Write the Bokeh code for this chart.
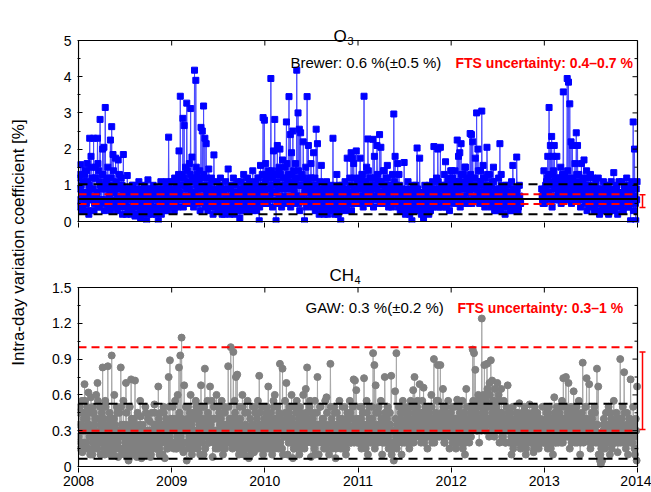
import math
import numpy as np
from bokeh.plotting import figure
from bokeh.models import FixedTicker, Range1d, Label
from bokeh.layouts import column, row
from bokeh.embed import file_html
from bokeh.resources import INLINE
from bokeh.core.properties import value

# ---------------- data ----------------
years = [2008, 2009, 2010, 2011, 2012, 2013]
year_ticks = [2008, 2009, 2010, 2011, 2012, 2013, 2014]
GAP = [None] * 16

# O3 intra-day variation coefficient [%]; three interleaved sample sets per year (None = no data)
o3_2008 = [0.9, 1.57, 0.6, 1.1, 1.3, 0.5, 1.6, 0.8, 2.3, 1.8, 0.7, 2.3, 1.2, 0.6, 2.3, 1.4, 2.82, 0.9,
           2.0, 2.05, 3.15, 1.1, 1.5, 0.7, 2.25, 2.62, 1.85, 0.8, 1.75, 0.5, 1.7, 1.3, 0.6, 1.0, 1.85, 0.4,
           0.9, 1.27, 0.3, 0.8, 0.2, 1.0, 0.5, 0.15, 0.9, 0.4, 1.1, 0.3, 0.7, 0.2, 0.9, 0.5, 0.02, 1.15,
           0.4, 0.8, 0.2, 1.0, 0.6, 0.3, 0.9, 0.02, 0.7, 1.1, 0.4, 0.8, 0.3, 1.0, 0.5, 2.33, 0.6, 1.1]
o3_2008_b = [1.2, 0.4, 1.0, 0.3, 0.8, 1.4, 0.5, 1.1, 0.2, 0.9, 1.5, 0.6, 0.3, 1.2, 0.7, 1.6, 0.4, 1.0,
             0.6, 1.3, 0.3, 0.9, 1.2, 0.5, 1.0, 0.3, 0.8, 1.4, 0.6, 1.1, 0.3, 0.9, 0.5, 1.2, 0.2, 0.8,
             0.5, 0.2, 0.9, 0.4, 0.7, 0.3, 1.0, 0.6, 0.2, 0.8, 0.5, 0.9, 0.1, 0.6, 0.4, 1.0, 0.3, 0.7,
             0.2, 0.9, 0.5, 0.3, 0.8, 0.6, 0.2, 0.7, 0.4, 0.9, 0.2, 0.6, 0.8, 0.4, 1.1, 0.3, 0.9, 0.5]
o3_2008_c = [0.6, 1.3, 0.8, 0.4, 1.1, 0.7, 1.4, 0.3, 1.0, 0.6, 1.2, 0.9, 0.5, 1.5, 0.8, 0.4, 1.1, 0.6,
             1.3, 0.5, 0.9, 0.6, 1.0, 0.4, 0.8, 1.2, 0.5, 0.9, 0.4, 1.0, 0.7, 0.4, 1.0, 0.6, 0.9, 0.5,
             0.7, 0.4, 0.6, 0.9, 0.3, 0.8, 0.5, 0.7, 0.4, 0.6, 0.2, 0.8, 0.5, 0.7, 0.3, 0.6, 0.8, 0.4,
             0.9, 0.5, 0.7, 0.3, 0.6, 0.9, 0.4, 0.8, 0.6, 0.3, 0.7, 0.9, 0.5, 0.7, 0.6, 0.8, 0.4, 0.7]
o3_2009 = [0.8, 1.1, 0.4, 1.0, 0.6, 1.95, 3.46, 1.2, 2.85, 2.65, 1.5, 3.27, 0.9, 1.6, 3.12, 1.78, 1.1, 4.18,
           3.9, 1.3, 0.7, 1.4, 2.6, 2.5, 3.19, 2.3, 2.15, 1.0, 1.45, 0.6, 1.2, 0.4, 1.84, 0.8, 1.1, 0.3,
           0.9, 1.2, 0.4, 0.8, 0.2, 1.1, 0.5, 1.45, 0.3, 0.9, 0.6, 1.2, 0.2, 1.0, 0.5, 0.8, 0.1, 1.1,
           0.6, 1.3, 0.4, 0.9, 1.2, 0.3, 1.0, 0.7, 1.4, 0.5, 1.1, 0.3, 1.2, 0.02, 1.55, 0.5, 2.87, 2.8]
o3_2009_b = [0.5, 0.9, 0.3, 0.7, 1.1, 0.4, 0.8, 0.6, 1.3, 0.4, 1.0, 0.7, 1.4, 0.5, 0.9, 0.6, 1.2, 0.4,
             0.8, 1.5, 0.5, 1.1, 0.3, 0.9, 0.6, 1.3, 0.4, 0.8, 0.3, 1.0, 0.5, 0.9, 0.2, 0.7, 0.5, 0.9,
             0.3, 0.6, 1.0, 0.2, 0.8, 0.4, 0.9, 0.3, 0.7, 0.2, 1.0, 0.4, 0.8, 0.3, 0.6, 1.1, 0.4, 0.7,
             0.9, 0.3, 1.0, 0.6, 0.4, 0.8, 1.1, 0.5, 0.9, 0.3, 0.7, 1.0, 0.5, 1.2, 0.4, 0.9, 1.3, 0.6]
o3_2009_c = [0.9, 0.6, 1.2, 0.5, 0.9, 1.3, 0.6, 1.0, 0.7, 1.2, 0.5, 0.9, 1.1, 0.7, 1.3, 0.8, 0.5, 1.2,
             0.7, 1.0, 0.9, 0.6, 1.2, 0.7, 1.0, 0.5, 0.9, 1.2, 0.7, 0.5, 0.8, 1.1, 0.6, 0.4, 0.8, 0.6,
             0.5, 0.8, 0.3, 0.6, 0.9, 0.5, 0.7, 0.4, 0.9, 0.6, 0.4, 0.7, 0.5, 0.8, 0.3, 0.7, 0.6, 0.9,
             0.4, 0.7, 0.8, 0.5, 0.7, 0.6, 0.4, 0.9, 0.6, 0.8, 0.5, 0.7, 0.9, 0.6, 0.8, 0.7, 1.0, 0.8]
o3_2010 = [1.6, 0.7, 1.3, 0.9, 3.95, 1.2, 1.95, 2.82, 0.02, 2.1, 1.4, 2.0, 0.5, 1.7, 0.9, 1.5, 2.75, 1.1,
           3.45, 2.4, 1.9, 2.5, 0.8, 1.6, 4.18, 3.0, 2.55, 2.45, 1.3, 2.2, 0.02, 1.5, 3.45, 2.1, 1.0, 1.6,
           0.4, 1.9, 1.2, 2.55, 2.15, 0.7, 1.1, 1.55, 0.3, 0.9, 0.5, 1.1, 0.2, 0.8, 0.4, 1.0, 2.3, 0.3,
           0.9, 1.3, 0.2, 0.7, 0.02, 1.0, 0.4, 0.8, 0.3, 1.75, 0.6, 1.2, 1.9, 1.75, 1.6, 0.5, 1.95, 1.1]
o3_2010_b = [0.8, 1.2, 0.5, 1.4, 0.7, 1.0, 0.4, 1.3, 0.8, 1.1, 0.5, 1.5, 0.9, 0.4, 1.2, 0.7, 1.0, 1.6,
             0.6, 1.1, 0.4, 1.3, 0.9, 0.5, 1.2, 0.7, 1.4, 0.3, 1.0, 0.6, 1.2, 0.8, 0.4, 1.1, 0.6, 0.9,
             1.2, 0.5, 0.8, 0.3, 1.0, 0.6, 0.2, 0.9, 0.5, 0.7, 0.2, 1.0, 0.4, 0.6, 0.9, 0.3, 0.7, 0.5,
             0.2, 0.8, 0.4, 1.0, 0.3, 0.6, 0.9, 0.5, 1.1, 0.4, 0.8, 0.6, 1.0, 0.3, 0.8, 1.2, 0.6, 0.9]
o3_2010_c = [1.1, 0.5, 0.9, 1.2, 0.6, 1.4, 0.8, 1.0, 1.3, 0.6, 0.9, 0.7, 1.3, 0.6, 1.0, 1.2, 0.5, 0.9,
             1.3, 0.7, 1.0, 0.6, 1.4, 1.1, 0.7, 1.0, 0.5, 1.2, 0.7, 1.0, 0.6, 0.9, 1.1, 0.5, 0.8, 1.2,
             0.7, 0.5, 1.0, 0.6, 0.4, 0.8, 0.6, 0.5, 0.8, 0.4, 0.7, 0.5, 0.8, 0.3, 0.6, 0.7, 0.5, 0.8,
             0.6, 0.4, 0.7, 0.5, 0.8, 0.6, 0.4, 0.8, 0.6, 0.9, 0.5, 0.7, 0.5, 0.8, 0.6, 0.9, 0.7, 0.5]
o3_2011 = [0.9, 1.75, 0.5, 1.3, 3.46, 0.8, 1.5, 2.28, 0.6, 1.2, 0.9, 2.27, 1.8, 0.7, 2.1, 1.1, 2.4, 2.05,
           0.5, 1.4, 0.8, 1.2, 1.55, 0.4, 1.0, 0.6, 1.3, 2.97, 1.8, 0.5, 1.6, 1.3, 0.3, 0.9, 0.5, 1.63,
           0.2, 0.8, 1.1, 0.3, 0.7, 0.02, 0.9, 0.4, 1.0, 2.03, 0.5, 1.75, 0.3, 0.8, 0.1, 1.0, 0.4, 0.7,
           0.2, 0.9, 0.5, 1.1, 2.07, 0.6, 1.2, 2.0, 0.7, 2.05, 1.0, 0.4, 1.3, 1.65, 0.6, 1.1, 0.3, 1.4]
o3_2011_b = [0.5, 1.0, 0.7, 1.3, 0.4, 0.9, 1.1, 0.6, 1.4, 0.5, 0.8, 1.2, 0.4, 1.0, 0.6, 1.3, 0.8, 0.5,
             1.1, 0.7, 1.4, 0.5, 0.9, 1.2, 0.6, 1.0, 0.4, 0.8, 1.1, 0.6, 0.9, 0.4, 1.0, 0.6, 0.8, 0.3,
             0.7, 0.4, 0.9, 0.5, 0.2, 0.8, 0.5, 1.0, 0.3, 0.7, 0.9, 0.4, 0.6, 0.2, 0.8, 0.5, 0.9, 0.3,
             0.6, 1.0, 0.3, 0.7, 0.4, 0.9, 0.5, 0.8, 1.1, 0.4, 0.7, 0.9, 0.5, 1.0, 0.4, 0.8, 1.2, 0.6]
o3_2011_c = [0.7, 1.2, 0.9, 0.6, 1.1, 0.7, 1.0, 0.9, 0.7, 1.2, 0.6, 1.0, 0.7, 1.2, 0.9, 0.6, 1.1, 0.8,
             0.7, 1.0, 0.6, 0.9, 0.7, 1.0, 0.8, 0.5, 0.9, 0.6, 0.8, 1.0, 0.5, 0.7, 0.8, 0.5, 0.7, 0.6,
             0.5, 0.6, 0.4, 0.7, 0.6, 0.4, 0.7, 0.6, 0.5, 0.8, 0.4, 0.6, 0.5, 0.7, 0.4, 0.7, 0.6, 0.5,
             0.8, 0.4, 0.7, 0.5, 0.8, 0.6, 0.9, 0.4, 0.7, 0.6, 0.9, 0.7, 0.6, 0.8, 0.7, 0.5, 0.9, 0.7]
o3_2012 = [1.4, 0.6, 1.1, 0.8, 2.25, 1.8, 1.9, 2.15, 0.9, 1.3, 1.5, 0.5, 1.2, 0.8, 2.43, 2.4, 2.2, 0.7,
           1.75, 3.0, 2.0, 1.0, 1.4, 3.05, 1.55, 0.6, 1.2, 2.05, 0.9, 1.3, 0.4, 1.1, 1.5, 0.3, 0.9, 0.5,
           1.2, 2.15, 1.3, 0.4, 0.9, 0.2, 1.0, 0.5, 0.8, 0.3, 1.1, 1.55, 0.4, 0.9, 1.78, 0.3, 1.0, 0.5] \
    + GAP + [0.6, 1.4]
o3_2012_b = [0.7, 1.2, 0.5, 1.4, 0.9, 0.6, 1.1, 0.4, 1.3, 0.7, 1.0, 1.5, 0.6, 1.1, 0.8, 1.3, 0.5, 1.0,
             1.2, 0.6, 0.9, 1.4, 0.5, 1.1, 0.8, 1.2, 0.4, 0.9, 1.3, 0.6, 1.0, 0.7, 0.5, 1.1, 0.3, 0.8,
             0.6, 0.9, 0.3, 1.0, 0.5, 0.8, 0.4, 0.7, 1.0, 0.5, 0.8, 0.3, 0.9, 0.5, 0.6, 0.9, 0.4, 0.7] \
    + GAP + [0.9, 0.5]
o3_2012_c = [1.0, 0.8, 0.9, 0.6, 1.1, 0.8, 0.5, 1.0, 0.7, 1.1, 0.6, 0.9, 1.0, 0.5, 1.1, 0.6, 0.9, 1.2,
             0.7, 1.0, 0.6, 0.8, 1.1, 0.7, 0.5, 1.0, 0.8, 0.6, 1.0, 0.8, 0.6, 1.0, 0.7, 0.6, 0.8, 0.5,
             0.7, 0.4, 0.7, 0.6, 0.8, 0.5, 0.7, 0.6, 0.4, 0.7, 0.5, 0.8, 0.6, 0.4, 0.8, 0.6, 0.7, 0.5] \
    + GAP + [0.7, 0.8]
o3_2013 = [0.7, 1.1, 1.8, 3.15, 2.1, 2.35, 1.8, 2.1, 0.9, 1.8, 1.2, 0.6, 1.5, 1.0, 3.58, 1.3, 0.8, 3.95,
           3.85, 3.25, 2.2, 2.1, 1.0, 1.6, 2.45, 2.1, 1.3, 0.7, 1.6, 1.1, 1.7, 0.5, 1.4, 1.2, 0.4, 1.3,
           0.8, 1.2, 0.3, 1.0, 0.6, 1.2, 0.2, 0.9, 0.5, 1.1, 0.3, 0.8, 1.0, 0.2, 0.7, 1.1, 0.4, 1.35,
           0.6, 0.9, 0.2, 1.1, 0.5, 0.8, 0.3, 1.0, 0.6, 1.2, 0.4, 0.9, 0.02, 1.1, 2.75, 2.0, 0.02, 1.1]
o3_2013_b = [0.5, 1.0, 0.8, 1.3, 0.6, 1.1, 0.4, 1.4, 0.9, 0.6, 1.2, 0.8, 1.0, 0.5, 1.3, 0.7, 1.1, 0.6,
             1.4, 0.8, 1.0, 0.5, 1.2, 0.7, 0.9, 1.3, 0.6, 1.0, 0.4, 0.8, 1.2, 0.6, 0.9, 0.3, 1.0, 0.7,
             0.5, 0.9, 0.7, 0.4, 1.1, 0.5, 0.8, 0.3, 0.7, 0.9, 0.5, 1.0, 0.4, 0.7, 0.3, 0.9, 0.6, 0.8,
             0.3, 0.7, 1.0, 0.4, 0.8, 0.5, 1.1, 0.3, 0.9, 0.6, 0.8, 0.4, 1.0, 0.6, 0.9, 0.3, 0.7, 0.9]
o3_2013_c = [0.9, 0.7, 1.2, 0.8, 1.0, 0.7, 1.3, 0.6, 1.1, 1.0, 0.7, 1.2, 0.8, 1.1, 0.6, 1.0, 0.9, 1.2,
             0.6, 1.0, 0.7, 1.1, 0.8, 0.6, 1.0, 0.8, 1.1, 0.6, 0.9, 1.0, 0.7, 0.9, 0.6, 0.8, 1.0, 0.5,
             0.8, 0.6, 0.5, 0.8, 0.6, 0.9, 0.5, 0.6, 0.8, 0.4, 0.7, 0.6, 0.8, 0.5, 0.8, 0.6, 0.7, 0.5,
             0.8, 0.4, 0.6, 0.8, 0.5, 0.7, 0.6, 0.8, 0.5, 0.7, 0.9, 0.6, 0.5, 0.8, 0.6, 0.7, 0.5, 0.6]

# CH4 intra-day variation coefficient [%]
ch4_2008 = [0.45, 0.2, 0.55, 0.3, 0.69, 0.15, 0.5, 0.62, 0.25, 0.58, 0.1, 0.45, 0.3, 0.6, 0.7, 0.2, 0.5, 0.35,
            0.83, 0.15, 0.55, 0.25, 0.84, 0.4, 0.1, 0.93, 0.3, 0.6, 0.2, 0.5, 0.08, 0.45, 0.83, 0.25, 0.55, 0.1,
            0.7, 0.35, 0.05, 0.5, 0.73, 0.2, 0.4, 0.72, 0.1, 0.45, 0.25, 0.55, 0.07, 0.35, 0.2, 0.5, 0.1, 0.4,
            0.3, 0.08, 0.45, 0.2, 0.52, 0.15, 0.35, 0.67, 0.1, 0.45, 0.25, 0.5, 0.07, 0.4, 0.2, 0.75, 0.89, 0.3]
ch4_2008_b = [0.25, 0.5, 0.35, 0.12, 0.4, 0.55, 0.2, 0.35, 0.45, 0.1, 0.3, 0.5, 0.15, 0.4, 0.25, 0.55, 0.3, 0.1,
              0.45, 0.2, 0.35, 0.5, 0.15, 0.3, 0.45, 0.2, 0.4, 0.1, 0.35, 0.25, 0.45, 0.15, 0.3, 0.5, 0.12, 0.35,
              0.2, 0.45, 0.15, 0.3, 0.1, 0.4, 0.25, 0.15, 0.35, 0.08, 0.3, 0.2, 0.42, 0.12, 0.3, 0.25, 0.45, 0.15,
              0.2, 0.38, 0.1, 0.3, 0.25, 0.45, 0.15, 0.3, 0.4, 0.2, 0.35, 0.1, 0.45, 0.25, 0.35, 0.15, 0.5, 0.2]
ch4_2008_c = [0.35, 0.15, 0.3, 0.45, 0.2, 0.3, 0.4, 0.15, 0.35, 0.25, 0.45, 0.2, 0.35, 0.25, 0.15, 0.4, 0.2, 0.3,
              0.25, 0.4, 0.1, 0.3, 0.2, 0.35, 0.25, 0.15, 0.3, 0.4, 0.15, 0.3, 0.2, 0.3, 0.15, 0.35, 0.25, 0.15,
              0.3, 0.1, 0.25, 0.2, 0.3, 0.15, 0.35, 0.25, 0.2, 0.3, 0.15, 0.35, 0.2, 0.25, 0.15, 0.3, 0.2, 0.3,
              0.15, 0.25, 0.3, 0.15, 0.35, 0.2, 0.3, 0.25, 0.15, 0.3, 0.2, 0.35, 0.25, 0.3, 0.15, 0.35, 0.25, 0.4]
ch4_2009 = [0.4, 0.15, 0.55, 0.3, 0.6, 0.83, 0.93, 1.08, 0.2, 0.68, 0.35, 0.05, 0.5, 0.25, 0.6, 0.1, 0.45, 0.3,
            0.55, 0.15, 0.4, 0.25, 0.68, 0.5, 0.1, 0.82, 0.35, 0.55, 0.2, 0.67, 0.4, 0.08, 0.5, 0.3, 0.6, 0.15,
            0.45, 0.25, 0.55, 0.1, 0.5, 0.35, 0.2, 0.84, 0.4, 1.0, 0.3, 0.96, 0.55, 0.75, 0.77, 0.15, 0.5, 0.25,
            0.6, 0.1, 0.45, 0.3, 0.55, 0.07, 0.4, 0.2, 0.5, 0.12, 0.45, 0.3, 0.55, 0.76, 0.2, 0.5, 0.1, 0.4]
ch4_2009_b = [0.3, 0.5, 0.2, 0.4, 0.15, 0.35, 0.45, 0.25, 0.4, 0.12, 0.3, 0.5, 0.2, 0.35, 0.45, 0.25, 0.15, 0.4,
              0.3, 0.5, 0.2, 0.45, 0.1, 0.35, 0.25, 0.5, 0.15, 0.3, 0.45, 0.2, 0.35, 0.55, 0.25, 0.4, 0.15, 0.3,
              0.5, 0.2, 0.4, 0.3, 0.15, 0.45, 0.25, 0.35, 0.5, 0.2, 0.4, 0.15, 0.3, 0.45, 0.25, 0.35, 0.1, 0.4,
              0.25, 0.5, 0.2, 0.35, 0.15, 0.45, 0.3, 0.1, 0.35, 0.25, 0.5, 0.15, 0.4, 0.3, 0.45, 0.2, 0.35, 0.25]
ch4_2009_c = [0.2, 0.35, 0.3, 0.15, 0.25, 0.4, 0.2, 0.3, 0.15, 0.35, 0.2, 0.3, 0.4, 0.15, 0.3, 0.35, 0.2, 0.25,
              0.4, 0.3, 0.15, 0.35, 0.3, 0.2, 0.4, 0.3, 0.25, 0.4, 0.3, 0.35, 0.25, 0.3, 0.4, 0.2, 0.3, 0.4,
              0.25, 0.35, 0.3, 0.2, 0.35, 0.15, 0.3, 0.25, 0.2, 0.3, 0.25, 0.35, 0.2, 0.3, 0.4, 0.2, 0.3, 0.35,
              0.15, 0.3, 0.25, 0.2, 0.3, 0.25, 0.15, 0.3, 0.25, 0.35, 0.2, 0.3, 0.25, 0.15, 0.35, 0.25, 0.3, 0.15]
ch4_2010 = [0.35, 0.5, 0.67, 0.2, 0.45, 0.1, 0.55, 0.6, 0.3, 0.5, 0.15, 0.86, 0.4, 0.82, 0.25, 0.55, 0.7, 0.1,
            0.45, 0.3, 0.6, 0.07, 0.5, 0.2, 0.55, 0.35, 0.1, 0.45, 0.25, 0.6, 0.15, 0.65, 0.83, 0.3, 0.5, 0.08,
            0.45, 0.2, 0.55, 0.35, 0.75, 0.1, 0.5, 0.25, 0.4, 0.15, 0.55, 0.58, 0.3, 0.1, 0.86, 0.4, 0.2, 0.5,
            0.07, 0.45, 0.3, 0.55, 0.15, 0.4, 0.25, 0.5, 0.1, 0.45, 0.3, 0.55, 0.2, 0.4, 0.73, 0.72, 0.64, 0.25]
ch4_2010_b = [0.2, 0.45, 0.3, 0.15, 0.4, 0.25, 0.35, 0.5, 0.15, 0.4, 0.3, 0.45, 0.2, 0.35, 0.1, 0.3, 0.45, 0.25,
              0.35, 0.5, 0.2, 0.4, 0.3, 0.15, 0.45, 0.25, 0.35, 0.5, 0.15, 0.3, 0.4, 0.2, 0.45, 0.25, 0.35, 0.55,
              0.2, 0.4, 0.3, 0.1, 0.45, 0.25, 0.35, 0.5, 0.2, 0.4, 0.3, 0.15, 0.45, 0.3, 0.2, 0.5, 0.35, 0.25,
              0.45, 0.15, 0.35, 0.2, 0.4, 0.3, 0.5, 0.2, 0.35, 0.15, 0.4, 0.25, 0.45, 0.3, 0.5, 0.2, 0.35, 0.4]
ch4_2010_c = [0.3, 0.15, 0.4, 0.25, 0.3, 0.35, 0.2, 0.3, 0.4, 0.25, 0.2, 0.35, 0.3, 0.15, 0.35, 0.25, 0.3, 0.4,
              0.2, 0.35, 0.25, 0.3, 0.15, 0.35, 0.3, 0.2, 0.4, 0.3, 0.35, 0.2, 0.3, 0.35, 0.2, 0.4, 0.25, 0.3,
              0.35, 0.25, 0.15, 0.3, 0.2, 0.35, 0.25, 0.3, 0.35, 0.2, 0.25, 0.35, 0.2, 0.3, 0.35, 0.25, 0.15, 0.3,
              0.25, 0.35, 0.2, 0.3, 0.25, 0.35, 0.15, 0.3, 0.25, 0.2, 0.35, 0.3, 0.2, 0.3, 0.25, 0.35, 0.3, 0.2]
ch4_2011 = [0.3, 0.5, 0.15, 0.45, 0.74, 0.25, 0.55, 0.1, 0.4, 0.3, 0.5, 0.95, 0.85, 0.68, 0.2, 0.45, 0.35, 0.55,
            0.1, 0.4, 0.75, 0.25, 0.5, 0.15, 0.45, 0.76, 0.3, 0.05, 0.63, 0.95, 0.2, 0.5, 0.35, 0.1, 0.55, 0.3,
            0.45, 0.2, 0.5, 0.15, 0.55, 0.35, 0.64, 0.75, 0.25, 0.5, 0.4, 0.69, 0.2, 0.55, 0.66, 0.3, 0.45, 0.15,
            0.5, 0.35, 0.6, 0.25, 0.9, 0.4, 0.55, 0.85, 0.3, 0.85, 0.45, 0.65, 0.2, 0.5, 0.35, 0.55, 0.15, 0.45]
ch4_2011_b = [0.2, 0.4, 0.3, 0.5, 0.25, 0.35, 0.15, 0.45, 0.3, 0.5, 0.2, 0.4, 0.35, 0.15, 0.45, 0.25, 0.5, 0.3,
              0.4, 0.2, 0.35, 0.45, 0.3, 0.5, 0.2, 0.35, 0.1, 0.3, 0.2, 0.4, 0.15, 0.35, 0.25, 0.45, 0.3, 0.5,
              0.2, 0.4, 0.3, 0.45, 0.25, 0.5, 0.35, 0.2, 0.45, 0.3, 0.55, 0.25, 0.4, 0.3, 0.45, 0.2, 0.5, 0.35,
              0.25, 0.45, 0.3, 0.5, 0.4, 0.2, 0.45, 0.35, 0.55, 0.25, 0.4, 0.3, 0.5, 0.2, 0.45, 0.3, 0.4, 0.25]
ch4_2011_c = [0.35, 0.25, 0.4, 0.2, 0.35, 0.3, 0.25, 0.35, 0.2, 0.3, 0.4, 0.25, 0.2, 0.3, 0.35, 0.2, 0.3, 0.25,
              0.35, 0.3, 0.2, 0.3, 0.4, 0.25, 0.35, 0.3, 0.2, 0.15, 0.3, 0.25, 0.35, 0.2, 0.4, 0.3, 0.2, 0.35,
              0.3, 0.25, 0.4, 0.3, 0.35, 0.2, 0.4, 0.3, 0.35, 0.4, 0.3, 0.35, 0.45, 0.25, 0.35, 0.4, 0.3, 0.25,
              0.4, 0.3, 0.35, 0.2, 0.3, 0.35, 0.3, 0.25, 0.4, 0.35, 0.3, 0.4, 0.25, 0.35, 0.3, 0.4, 0.3, 0.35]
ch4_2012 = [0.4, 0.25, 0.5, 0.15, 0.56, 0.35, 0.45, 0.2, 0.55, 0.3, 0.1, 0.65, 0.4, 0.25, 0.5, 0.35, 0.98, 0.95,
            0.81, 0.3, 0.55, 0.2, 0.5, 1.24, 0.4, 0.85, 0.6, 0.86, 0.5, 0.7, 0.89, 0.72, 0.55, 0.65, 0.3, 0.7,
            0.6, 0.45, 0.65, 0.35, 0.55, 0.2, 0.5, 0.68, 0.3, 0.45, 0.1, 0.5, 0.35, 0.2, 0.45, 0.3, 0.53, 0.15,
            0.4, 0.25, 0.5, 0.1, 0.45, 0.3, 0.52, 0.2, 0.4, 0.12, 0.5, 0.3, 0.45, 0.15, 0.4, 0.25, 0.5, 0.2]
ch4_2012_b = [0.3, 0.5, 0.2, 0.4, 0.35, 0.25, 0.5, 0.3, 0.4, 0.15, 0.45, 0.3, 0.5, 0.35, 0.2, 0.45, 0.4, 0.55,
              0.5, 0.45, 0.35, 0.6, 0.4, 0.55, 0.5, 0.6, 0.45, 0.55, 0.65, 0.4, 0.6, 0.5, 0.45, 0.55, 0.4, 0.5,
              0.35, 0.55, 0.3, 0.45, 0.25, 0.4, 0.35, 0.3, 0.45, 0.2, 0.4, 0.3, 0.15, 0.35, 0.25, 0.45, 0.2, 0.35,
              0.3, 0.45, 0.2, 0.35, 0.15, 0.4, 0.25, 0.35, 0.2, 0.45, 0.15, 0.35, 0.25, 0.4, 0.3, 0.2, 0.35, 0.3]
ch4_2012_c = [0.35, 0.2, 0.3, 0.4, 0.25, 0.3, 0.2, 0.4, 0.3, 0.35, 0.25, 0.2, 0.35, 0.3, 0.4, 0.25, 0.3, 0.4,
              0.35, 0.45, 0.3, 0.4, 0.35, 0.3, 0.45, 0.35, 0.3, 0.4, 0.35, 0.25, 0.4, 0.3, 0.35, 0.25, 0.45, 0.3,
              0.4, 0.2, 0.35, 0.25, 0.3, 0.35, 0.2, 0.4, 0.3, 0.35, 0.25, 0.2, 0.3, 0.4, 0.2, 0.3, 0.25, 0.4,
              0.2, 0.3, 0.35, 0.25, 0.3, 0.2, 0.35, 0.3, 0.25, 0.3, 0.35, 0.2, 0.3, 0.25, 0.35, 0.3, 0.2, 0.35]
ch4_2013 = [0.3, 0.45, 0.15, 0.5, 0.25, 0.4, 0.1, 0.58, 0.35, 0.5, 0.2, 0.45, 0.3, 0.55, 0.74, 0.25, 0.75, 0.4,
            0.7, 0.15, 0.5, 0.35, 0.63, 0.2, 0.45, 0.3, 0.55, 0.1, 0.4, 0.87, 0.25, 0.5, 0.74, 0.35, 0.69, 0.15,
            0.45, 0.3, 0.5, 0.2, 0.82, 0.67, 0.25, 0.02, 0.05, 0.35, 0.15, 0.45, 0.25, 0.5, 0.1, 0.4, 0.3, 0.55,
            0.2, 0.45, 0.12, 0.4, 0.9, 0.3, 0.5, 0.79, 0.2, 0.45, 0.1, 0.4, 0.73, 0.25, 0.5, 0.15, 0.4, 0.67]
ch4_2013_b = [0.2, 0.35, 0.25, 0.45, 0.3, 0.15, 0.4, 0.25, 0.45, 0.2, 0.35, 0.3, 0.5, 0.2, 0.4, 0.35, 0.5, 0.25,
              0.45, 0.3, 0.4, 0.2, 0.45, 0.35, 0.25, 0.5, 0.3, 0.4, 0.2, 0.45, 0.35, 0.3, 0.5, 0.25, 0.4, 0.3,
              0.2, 0.4, 0.3, 0.45, 0.25, 0.35, 0.1, 0.05, 0.15, 0.25, 0.4, 0.3, 0.2, 0.35, 0.25, 0.45, 0.15, 0.35,
              0.3, 0.2, 0.4, 0.25, 0.35, 0.2, 0.4, 0.3, 0.45, 0.15, 0.35, 0.25, 0.4, 0.3, 0.2, 0.35, 0.1, 0.3]
ch4_2013_c = [0.25, 0.4, 0.3, 0.2, 0.35, 0.3, 0.25, 0.35, 0.2, 0.3, 0.4, 0.25, 0.35, 0.3, 0.2, 0.4, 0.3, 0.35,
              0.25, 0.3, 0.35, 0.25, 0.3, 0.4, 0.3, 0.2, 0.35, 0.25, 0.3, 0.35, 0.2, 0.4, 0.3, 0.35, 0.25, 0.2,
              0.3, 0.35, 0.25, 0.3, 0.35, 0.2, 0.25, 0.1, 0.2, 0.3, 0.25, 0.35, 0.3, 0.2, 0.35, 0.25, 0.2, 0.3,
              0.35, 0.25, 0.3, 0.2, 0.3, 0.35, 0.25, 0.2, 0.3, 0.25, 0.35, 0.3, 0.2, 0.3, 0.35, 0.25, 0.3, 0.05]

o3_ticks = [0, 1, 2, 3, 4, 5]
ch4_ticks = [0.0, 0.3, 0.6, 0.9, 1.2, 1.5]

# reference levels
brewer_band = [0.20, 1.03]
brewer_mean = 0.62
fts_o3_lines = [0.48, 0.75]
fts_o3_bar = [0.39, 0.74]
gaw_band = [0.065, 0.525]
gaw_mean = 0.28
fts_ch4_lines = [0.30, 1.00]
fts_ch4_bar = [0.31, 0.96]

ylabel = "Intra-day variation coefficient [%]"
FONT = "Liberation Sans"


def to_xy(sets):
    # sets: list of (per-year lists, fractional offset within a sample slot)
    pts = []
    for lists, off in sets:
        for yr, vals in zip(years, lists):
            n = len(vals)
            for i, v in enumerate(vals):
                pts.append((yr + (i + off) / n, v))
    pts.sort(key=lambda t: t[0])
    xs = [t[0] for t in pts]
    ys = [np.nan if t[1] is None else t[1] for t in pts]
    return xs, ys


o3_x, o3_y = to_xy([
    ([o3_2008_b, o3_2009_b, o3_2010_b, o3_2011_b, o3_2012_b, o3_2013_b], 0.0),
    ([o3_2008_c, o3_2009_c, o3_2010_c, o3_2011_c, o3_2012_c, o3_2013_c], 1 / 3),
    ([o3_2008, o3_2009, o3_2010, o3_2011, o3_2012, o3_2013], 2 / 3),
])
ch4_x, ch4_y = to_xy([
    ([ch4_2008_b, ch4_2009_b, ch4_2010_b, ch4_2011_b, ch4_2012_b, ch4_2013_b], 0.0),
    ([ch4_2008_c, ch4_2009_c, ch4_2010_c, ch4_2011_c, ch4_2012_c, ch4_2013_c], 1 / 3),
    ([ch4_2008, ch4_2009, ch4_2010, ch4_2011, ch4_2012, ch4_2013], 2 / 3),
])

PX_X = (year_ticks[-1] - year_ticks[0]) / 559.0  # years per px
FRAME_W = 571
X0 = year_ticks[0] - PX_X
X1 = year_ticks[-1] + 11 * PX_X


def make_panel(yticks, px_top_tick, px_zero, border_bottom, show_xlabels):
    # frame spans from the canvas top down to 1 px below the zero line
    upp = (yticks[-1] - yticks[0]) / (px_zero - px_top_tick)  # data units per px
    frame_h = px_zero + 1
    ymin = yticks[0] - upp
    ymax = yticks[-1] + px_top_tick * upp
    p = figure(frame_width=FRAME_W, frame_height=frame_h, x_range=Range1d(X0, X1),
               y_range=Range1d(ymin, ymax), output_backend="svg", toolbar_location=None, title=None,
               min_border_left=47, min_border_right=3, min_border_top=0,
               min_border_bottom=border_bottom)
    p.outline_line_color = None
    p.xgrid.grid_line_color = None
    p.ygrid.grid_line_color = None
    minor = [(a + b) / 2 for a, b in zip(yticks[:-1], yticks[1:])]
    ax = p.yaxis[0]
    ax.ticker = FixedTicker(ticks=yticks, minor_ticks=minor)
    ax.axis_line_color = None
    ax.major_tick_in = 5
    ax.major_tick_out = 0
    ax.minor_tick_in = 3
    ax.minor_tick_out = 0
    ax.major_tick_line_color = "black"
    ax.minor_tick_line_color = "black"
    ax.major_label_text_font = FONT
    ax.major_label_text_font_size = "14px"
    ax.major_label_text_color = "black"
    ax.major_label_standoff = 6
    bx = p.xaxis[0]
    bx.ticker = FixedTicker(ticks=year_ticks, minor_ticks=[])
    bx.axis_line_color = None
    bx.major_tick_in = 0
    bx.major_tick_out = 5
    bx.major_tick_line_color = "black"
    bx.major_label_text_font = FONT
    bx.major_label_text_color = "black"
    if show_xlabels:
        bx.major_label_text_font_size = "14px"
        bx.major_label_standoff = 3
    else:
        bx.major_label_text_font_size = "1px"
        bx.major_label_text_color = None
        bx.major_label_standoff = 0
    return p, upp


def decorate(p, yticks, upp):
    x0, x1 = year_ticks[0], year_ticks[-1]
    y0, y1 = yticks[0], yticks[-1]
    # frame box
    p.segment(x0=[x0, x0, x1, x0], y0=[y0, y1, y0, y0], x1=[x0, x1, x1, x1], y1=[y1, y1, y1, y0],
              line_color="black", line_width=1.2)
    # right inward ticks
    minor = [(a + b) / 2 for a, b in zip(yticks[:-1], yticks[1:])]
    p.segment(x0=[x1 - 5 * PX_X] * len(yticks), y0=yticks, x1=[x1] * len(yticks), y1=yticks,
              line_color="black", line_width=1)
    p.segment(x0=[x1 - 3 * PX_X] * len(minor), y0=minor, x1=[x1] * len(minor), y1=minor,
              line_color="black", line_width=1)
    # top inward ticks
    inner = year_ticks[1:-1]
    p.segment(x0=inner, y0=[y1] * len(inner), x1=inner, y1=[y1 - 5 * upp] * len(inner),
              line_color="black", line_width=1)


def ref_lines(p, band, mean, fts_lines, fts_bar):
    x0, x1 = year_ticks[0], year_ticks[-1]
    p.segment(x0=[x0, x0], y0=band, x1=[x1, x1], y1=band, line_color="black", line_width=2,
              line_dash="9 6")
    p.segment(x0=[x0], y0=[mean], x1=[x1], y1=[mean], line_color="black", line_width=2)
    p.segment(x0=[x0, x0], y0=fts_lines, x1=[x1, x1], y1=fts_lines, line_color="#ff0000",
              line_width=2, line_dash="8 5")
    bxp = x1 + 5 * PX_X
    p.segment(x0=[bxp], y0=[fts_bar[0]], x1=[bxp], y1=[fts_bar[1]], line_color="#ff0000", line_width=1.5)
    p.segment(x0=[bxp - 3 * PX_X] * 2, y0=fts_bar, x1=[bxp + 3 * PX_X] * 2, y1=fts_bar,
              line_color="#ff0000", line_width=1.5)


def px2x(px):
    return year_ticks[0] + (px - 78) * PX_X


def add_text(p, x, y, text, size, bold=False, color="black", baseline="middle"):
    p.add_layout(Label(x=x, y=y, text=text, text_font=FONT, text_font_size=size,
                       text_font_style="bold" if bold else "normal", text_color=color,
                       text_align="left", text_baseline=baseline))


# ---------- O3 panel (canvas y 0..240) ----------
p1, u1 = make_panel(o3_ticks, 40, 221, 18, False)
p1.line(o3_x, o3_y, line_color="#4a4aff", line_width=1)
p1.scatter(o3_x, o3_y, marker="square", size=6, fill_color="#0000ff", line_color="#0000ff")
ref_lines(p1, brewer_band, brewer_mean, fts_o3_lines, fts_o3_bar)
decorate(p1, o3_ticks, u1)


def y1(py):
    return (221 - py) * u1


add_text(p1, px2x(333), y1(36), "O", "17px", baseline="alphabetic")
add_text(p1, px2x(347), y1(40), "3", "11px", baseline="alphabetic")
add_text(p1, px2x(290), y1(62), "Brewer: 0.6 %(\u00b10.5 %)", "15px")
add_text(p1, px2x(455), y1(62), "FTS uncertainty: 0.4\u20130.7 %", "14px", bold=True, color="#ff0000")

# ---------- CH4 panel (canvas y 240..492) ----------
p2, u2 = make_panel(ch4_ticks, 287 - 240, 466 - 240, 25, True)
p2.line(ch4_x, ch4_y, line_color="#a8a8a8", line_width=1)
p2.scatter(ch4_x, ch4_y, marker="circle", size=7, fill_color="#808080", line_color="#808080")
ref_lines(p2, gaw_band, gaw_mean, fts_ch4_lines, fts_ch4_bar)
decorate(p2, ch4_ticks, u2)


def y2(py):
    return (466 - py) * u2


add_text(p2, px2x(329), y2(275), "CH", "17px", baseline="alphabetic")
add_text(p2, px2x(354), y2(279), "4", "11px", baseline="alphabetic")
add_text(p2, px2x(305), y2(307), "GAW: 0.3 %(\u00b10.2 %)", "15px")
add_text(p2, px2x(457), y2(307), "FTS uncertainty: 0.3\u20131 %", "14px", bold=True, color="#ff0000")

# ---------- shared y label ----------
pl = figure(width=30, height=492, x_range=Range1d(0, 30), y_range=Range1d(0, 492),
            output_backend="svg", toolbar_location=None, title=None, min_border=0)
pl.axis.visible = False
pl.grid.visible = False
pl.outline_line_color = None
pl.text(x=[18], y=[250], text=[ylabel], angle=math.pi / 2, text_font=value(FONT),
        text_font_size="17px", text_align="center", text_baseline="middle", text_color="black")

layout = row(pl, column(p1, p2, spacing=0), spacing=0)
open("out.html", "w").write(file_html(layout, INLINE))
